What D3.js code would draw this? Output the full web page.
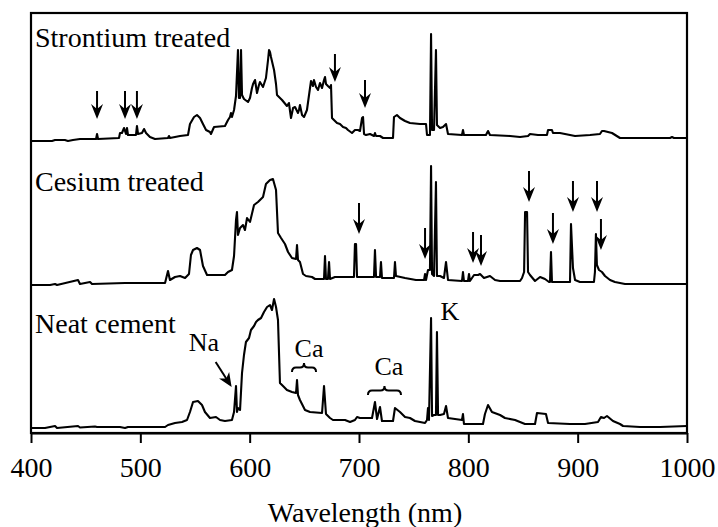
<!DOCTYPE html>
<html>
<head>
<meta charset="utf-8">
<script src="https://cdn.jsdelivr.net/npm/d3@7"></script>
<style>
  html, body { margin: 0; padding: 0; background: #fff; }
  svg { display: block; }
</style>
</head>
<body>
<svg id="chart" width="718" height="527"></svg>
<script>
// ---------------- DATA ----------------
const xTicks = [400, 500, 600, 700, 800, 900, 1000];
const seriesNames = ["Strontium treated", "Cesium treated", "Neat cement"];
const seriesOffsets = [285, 140, 0]; // vertical stacking offsets (a.u.)

// [wavelength nm, intensity a.u.]
const strontium = [
[400,7],[419.2,7],[422,8],[431,8],[433.8,7],[438.4,8],[444.8,9],[459.5,9],[460.4,14],[461.3,9],
[480.5,10],[481.4,15],[483.2,15],[485.1,20],[486.9,14],[487.8,20],[488.7,13],[496,13],[496.9,22],[497.9,14],
[501.5,15],[503.4,19],[505.2,15],[508.8,11],[513.4,9],[525.3,10],[526.2,12],[527.1,10],[536.3,12],[543.6,13],
[545.4,24],[549.1,31],[551.8,33],[554.6,30],[557.3,24],[560.1,18],[563.7,16],[564.6,14],[567.4,21],[577.4,22],
[580.2,28],[582,31],[582.9,35],[583.8,31],[585.7,38],[587.5,52],[589.3,98],[590.2,50],[591.2,50],[592.1,98],
[593,53],[594.8,49],[598.5,46],[600.3,50],[602.1,60],[603.1,64],[604.9,68],[606.7,55],[608.5,63],[609.4,66],
[612.2,61],[614.9,70],[616.8,88],[617.7,98],[618.6,96],[619.5,91],[622.3,78],[624.1,64],[625,53],[629.6,48],
[634.1,42],[635.9,45],[637.8,30],[639.7,40],[641.5,41],[644.2,35],[645.1,38],[646,43],[647.9,33],[649.7,31],
[652.4,38],[654.3,53],[656.1,67],[657.9,62],[658.8,68],[660.7,61],[662.5,58],[664.3,65],[666.2,60],[668,68],
[668.9,71],[669.8,64],[671.6,62],[673.5,60],[674.4,63],[675.3,30],[677.1,28],[679.9,25],[682.6,24],[685.4,21],
[688.1,20],[689.9,18],[693.6,15],[696.3,18],[699.1,18],[700.9,17],[702.8,30],[703.7,31],[704.6,14],[706.4,13],
[710.1,14],[713.7,12],[714.6,15],[715.6,12],[719.2,12],[722,10],[731.1,10],[732,31],[734.7,33],[737.5,30],
[742.1,27],[746.6,25],[755.8,24],[761.3,24],[762.2,13],[764.9,13],[765.9,114],[766.8,18],[768.6,18],[770.4,98],
[771.3,23],[774.1,20],[776.8,21],[779.6,24],[781.4,14],[794.2,13],[795.1,18],[796,13],[816.1,13],[818,17],
[819.8,13],[838.1,12],[847.3,11],[854.6,12],[856.4,14],[863.7,13],[871.9,13],[872.9,18],[876.5,18],[877.4,15],
[883.8,15],[888.4,14],[897.6,12],[911.3,13],[920.4,14],[922.2,17],[924.1,17],[931.4,15],[938.7,10],[984.5,10],
[986.3,11],[988.1,10],[1000,10]
];

const cesium = [
[400,8],[417.4,8],[422,9],[423.8,8],[443,13],[444.8,9],[454,11],[455.8,9],[486,10],[504.3,10],
[522.6,10],[525.3,22],[527.1,13],[531.7,16],[536.3,17],[540.9,15],[544.5,19],[546.3,38],[548.2,43],[551.8,45],
[554.6,43],[557.3,27],[561,18],[577.4,18],[580.2,21],[583.8,23],[585.7,37],[587.5,73],[588.4,81],[589.3,58],
[591.2,65],[593.9,68],[595.7,63],[597.6,75],[600.3,71],[604,88],[607.6,91],[612.2,96],[614.9,109],[618.6,113],
[621.3,114],[624.1,103],[625.9,60],[628.7,55],[632.3,49],[635.1,41],[638.7,35],[642.4,34],[643.3,48],[644.2,33],
[646,31],[648.8,19],[651.5,17],[657,16],[659.8,14],[668,14],[668.9,37],[669.8,14],[671.6,14],[672.6,31],
[673.5,14],[678,16],[695.4,16],[696.3,49],[697.3,49],[698.2,16],[713.7,16],[714.6,43],[715.6,16],[719.2,16],
[720.1,31],[721,15],[732,15],[732.9,31],[733.8,17],[742.1,15],[752.1,13],[759.5,13],[760.4,19],[761.3,13],
[763.1,23],[764.9,23],[765.9,127],[766.8,19],[768.6,17],[770.4,111],[771.3,17],[774.1,17],[777.7,15],[779.6,31],
[781.4,13],[794.2,12],[795.1,21],[796,12],[799.7,12],[800.6,19],[801.5,12],[805.2,18],[808.9,18],[810.7,19],
[814.3,15],[819.8,17],[824.4,13],[829,12],[847.3,12],[849.1,15],[851,21],[851.9,81],[853.7,81],[854.6,21],
[856.4,18],[861,12],[865.6,16],[870.1,14],[873.8,11],[874.7,11],[875.6,41],[876.5,11],[893,11],[893.9,69],
[895.7,25],[897.6,13],[902.1,11],[914.9,11],[915.8,21],[916.7,59],[917.6,28],[919.5,23],[922.2,21],[925,17],
[929.6,13],[934.1,11],[943.3,9],[1000,9]
];

const neat = [
[400,5],[412.8,5],[422,7],[423.8,5],[443,7],[444.8,5.5],[458.5,6.5],[460.4,6],[481.4,6],[486,5],
[488.7,6],[522.6,6],[525.3,8],[531.7,10],[538.1,11],[542.7,13],[545.4,21],[548.2,31],[552.7,32],[556.4,28],
[559.1,21],[563.7,15],[569.2,16],[572.9,13],[577.4,12],[583.8,13],[585.7,21],[587.5,47],[588.4,21],[589.3,25],
[591.2,23],[593,60],[594.8,78],[596.6,91],[599.4,95],[601.2,103],[604,107],[605.8,111],[607.6,113],[610.4,115],
[613.1,121],[615.9,126],[618.6,128],[620.4,123],[622.3,134],[624.1,126],[625.9,113],[627.7,50],[630.5,47],[634.1,43],
[638.7,41],[642.4,40],[643.3,53],[644.2,38],[646,33],[650.6,23],[655.2,21],[666.2,20],[668,47],[669.8,19],
[673.5,15],[676.2,13],[687.2,13],[691.8,11],[696.3,13],[698.2,16],[700.9,15],[711.9,15],[714.6,31],[716.5,14],
[719.2,26],[721,12],[731.1,12],[732.9,25],[737.5,21],[742.1,16],[746.6,15],[751.2,12],[760.4,10],[762.2,13],
[763.1,25],[764,13],[765.9,115],[766.8,17],[768.6,18],[770.4,18],[771.3,101],[772.3,18],[774.1,18],[777.7,19],
[779.6,27],[781.4,15],[794.2,13],[795.1,19],[796,9],[813.4,9],[815.2,19],[818,28],[821.6,21],[829,18],
[833.5,15],[842.7,13],[851.8,9],[861,9],[862.8,20],[871,19],[872.9,10],[893,9],[906.7,9],[918.6,11],
[921.3,16],[924.1,15],[926.8,17],[932.3,12],[938.7,9],[941.5,7],[957,6],[975.3,6],[1000,7]
];

// arrows marking new lines: [wavelength nm, tip intensity a.u.]
const strontiumArrows = [[460.4,29],[486,29],[496.9,29],[678,66],[705.5,40]];
const cesiumArrows = [[700,59],[760.4,34],[804.3,30],[811.6,27],[855.5,91],[877.4,49],[895.7,81],[917.7,81],[921.3,43]];

// element labels on neat cement: [text, wavelength, intensity]
const elementLabels = [["Na",558.2,82],["Ca",654.3,76],["Ca",727.4,58],["K",783.2,113]];
// braces under Ca labels: [start nm, end nm, intensity of brace ends]
const braces = [[638.7,660.7,61],[708.2,738.4,38]];
// Na pointer: [from nm, from intensity, to nm, to intensity]
const naPointer = [568.9,71,583.5,46];

// ---------------- CHART ----------------
const FONT = "Liberation Serif";
const svg = d3.select("#chart").attr("font-family", FONT);
const margin = {left: 31, right: 31, top: 13, bottom: 94};
const W = 718, H = 527;

const x = d3.scaleLinear().domain([400, 1000]).range([margin.left, W - margin.right]);
const y = d3.scaleLinear().domain([0, 420]).range([H - margin.bottom, margin.top]);

svg.append("rect").attr("width", W).attr("height", H).attr("fill", "#fff");

svg.append("defs").append("clipPath").attr("id", "clip")
  .append("rect").attr("x", x(400)).attr("y", y(420)).attr("width", x(1000) - x(400)).attr("height", y(0) - y(420));

const allSeries = [strontium, cesium, neat];
allSeries.forEach((s, i) => {
  const off = seriesOffsets[i];
  const line = d3.line().x(d => x(d[0])).y(d => y(d[1] + off));
  svg.append("path")
    .datum(s)
    .attr("clip-path", "url(#clip)")
    .attr("d", line)
    .attr("fill", "none")
    .attr("stroke", "#000")
    .attr("stroke-width", 2.1)
    .attr("stroke-linejoin", "round");
});

// frame
svg.append("rect")
  .attr("x", x(400)).attr("y", y(420))
  .attr("width", x(1000) - x(400)).attr("height", y(0) - y(420))
  .attr("fill", "none").attr("stroke", "#000").attr("stroke-width", 2.2);

// x axis
const axis = svg.append("g")
  .attr("transform", `translate(0,${y(0)})`)
  .call(d3.axisBottom(x).tickValues(xTicks).tickSize(10).tickSizeOuter(0).tickFormat(d3.format("d")));
axis.attr("font-family", FONT).attr("font-size", 28);
axis.select(".domain").attr("stroke", "#000").attr("stroke-width", 2.2);
axis.selectAll(".tick line").attr("stroke", "#000").attr("stroke-width", 2);
axis.selectAll(".tick text")
  .attr("y", 44).attr("dy", 0)
  .attr("font-family", FONT)
  .attr("font-size", 28).attr("fill", "#000");

function addText(xp, yp, str, size, anchor) {
  return svg.append("text").attr("x", xp).attr("y", yp)
    .attr("text-anchor", anchor || "start")
    .attr("font-family", FONT).attr("font-size", size)
    .attr("fill", "#000").text(str);
}

addText(365, 522, "Wavelength (nm)", 28, "middle");

// series names
seriesNames.forEach((name, i) => {
  const baseY = [47, 191, 333][i];
  addText(35, baseY, name, 28);
});

// arrows
function downArrow(g, px, tipY, len) {
  g.append("line").attr("x1", px).attr("x2", px).attr("y1", tipY - len).attr("y2", tipY - 8)
    .attr("stroke", "#000").attr("stroke-width", 2);
  g.append("path")
    .attr("d", `M${px},${tipY} L${px - 6},${tipY - 15} L${px},${tipY - 10} L${px + 6},${tipY - 15} Z`)
    .attr("fill", "#000");
}
const ag = svg.append("g");
strontiumArrows.forEach(d => downArrow(ag, x(d[0]), y(d[1] + seriesOffsets[0]), 28));
cesiumArrows.forEach(d => downArrow(ag, x(d[0]), y(d[1] + seriesOffsets[1]), 31));

// element labels
elementLabels.forEach(d => addText(x(d[1]), y(d[2]), d[0], 26, "middle"));

// braces
braces.forEach(d => {
  const x0 = x(d[0]), x1 = x(d[1]), yb = y(d[2]);
  const ym = yb - 4.5, yt = yb - 9, xm = (x0 + x1) / 2, r = 4;
  const p = `M${x0},${yb} Q${x0},${ym} ${x0 + r},${ym} L${xm - r},${ym} Q${xm},${ym} ${xm},${yt} ` +
            `Q${xm},${ym} ${xm + r},${ym} L${x1 - r},${ym} Q${x1},${ym} ${x1},${yb}`;
  svg.append("path").attr("d", p).attr("fill", "none").attr("stroke", "#000").attr("stroke-width", 2);
});

// Na pointer arrow
{
  const x0 = x(naPointer[0]), y0 = y(naPointer[1]), x1 = x(naPointer[2]), y1 = y(naPointer[3]);
  const ang = Math.atan2(y1 - y0, x1 - x0);
  const ux = Math.cos(ang), uy = Math.sin(ang);
  const nx = -uy, ny = ux;
  svg.append("line").attr("x1", x0).attr("y1", y0).attr("x2", x1 - ux * 8).attr("y2", y1 - uy * 8)
    .attr("stroke", "#000").attr("stroke-width", 2);
  const bx = x1 - ux * 14, by = y1 - uy * 14, kx = x1 - ux * 10, ky = y1 - uy * 10;
  svg.append("path")
    .attr("d", `M${x1},${y1} L${bx + nx * 6},${by + ny * 6} L${kx},${ky} L${bx - nx * 6},${by - ny * 6} Z`)
    .attr("fill", "#000");
}
</script>
</body>
</html>
